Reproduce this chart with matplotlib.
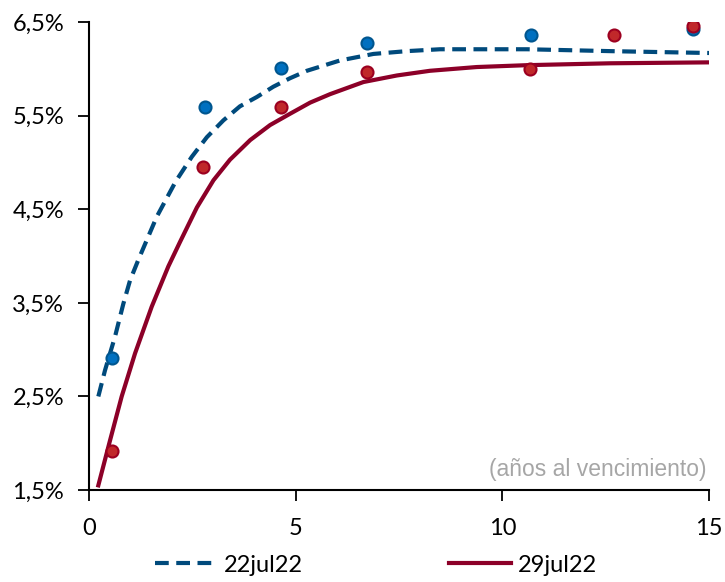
import matplotlib.pyplot as plt
from matplotlib.ticker import FuncFormatter

# observed yields (años, %)
obs_x_22 = [0.56, 2.81, 4.65, 6.73, 10.70, 14.62]
obs_y_22 = [2.91, 5.59, 6.01, 6.28, 6.36, 6.43]
obs_x_29 = [0.56, 2.76, 4.65, 6.73, 10.68, 12.71, 14.60]
obs_y_29 = [1.92, 4.95, 5.59, 5.97, 6.00, 6.36, 6.46]

# fitted curves
curve_x_22 = [0.225, 0.387, 0.629, 0.830, 0.992, 1.193, 1.396, 1.638, 1.82, 2.10, 2.485,
              2.85, 3.25, 3.65, 4.06, 4.46, 4.86, 5.27, 6.07, 6.88, 7.69, 8.49, 9.38,
              10.6, 12.6, 15.0]
curve_y_22 = [2.50, 2.78, 3.14, 3.49, 3.74, 3.96, 4.17, 4.42, 4.57, 4.80, 5.06,
              5.27, 5.45, 5.60, 5.70, 5.81, 5.90, 5.98, 6.09, 6.16, 6.19, 6.21, 6.21,
              6.21, 6.19, 6.17]
curve_x_29 = [0.225, 0.508, 0.79, 1.113, 1.517, 1.919, 2.20, 2.61, 3.01, 3.41, 3.90,
              4.38, 4.86, 5.35, 5.83, 6.64, 7.45, 8.25, 9.38, 10.6, 12.6, 15.0]
curve_y_29 = [1.55, 2.03, 2.50, 2.96, 3.46, 3.89, 4.15, 4.52, 4.81, 5.03, 5.24,
              5.40, 5.52, 5.64, 5.73, 5.86, 5.93, 5.98, 6.02, 6.04, 6.06, 6.07]

yticks = [1.5, 2.5, 3.5, 4.5, 5.5, 6.5]
xticks = [0, 5, 10, 15]

plt.rcParams['font.family'] = ['Lato', 'DejaVu Sans']

fig = plt.figure(figsize=(7.25, 5.82), dpi=100)
ax = fig.add_axes([0.1228, 0.158, 0.8552, 0.804])

l1, = ax.plot(curve_x_22, curve_y_22, color='#004A7C', lw=3, ls=(0, (3.3, 1.8)),
              dash_capstyle='butt', solid_joinstyle='round', label='22jul22', zorder=2)
l2, = ax.plot(curve_x_29, curve_y_29, color='#8C0028', lw=3, solid_joinstyle='round',
              label='29jul22', zorder=2)
ax.scatter(obs_x_22, obs_y_22, s=75, color='#0070C0', edgecolor='#00568F', lw=1.5, zorder=3)
ax.scatter(obs_x_29, obs_y_29, s=75, color='#C0282A', edgecolor='#9C0020', lw=1.5, zorder=4)

ax.set_xlim(0, 15)
ax.set_ylim(1.5, 6.5)
ax.set_xticks(xticks)
ax.set_yticks(yticks)
ax.yaxis.set_major_formatter(FuncFormatter(lambda v, p: f'{v:.1f}%'.replace('.', ',')))
ax.tick_params(direction='out', length=8, width=1.3, labelsize=17, color='black')
ax.tick_params(axis='y', pad=10)
ax.tick_params(axis='x', pad=12)
for s in ['top', 'right']:
    ax.spines[s].set_visible(False)
for s in ['left', 'bottom']:
    ax.spines[s].set_linewidth(1.5)

ax.text(14.95, 1.6, '(años al vencimiento)', color='#A6A6A6', fontsize=16.5,
        ha='right', va='bottom', family=['Liberation Sans', 'DejaVu Sans'])

fig.legend(handles=[l1, l2], loc='center', bbox_to_anchor=(376 / 725, 1 - 565 / 582),
           ncol=2, frameon=False, fontsize=17, handlelength=2.6, columnspacing=6.2,
           handletextpad=0.3)

fig.savefig('out.png', dpi=100)
